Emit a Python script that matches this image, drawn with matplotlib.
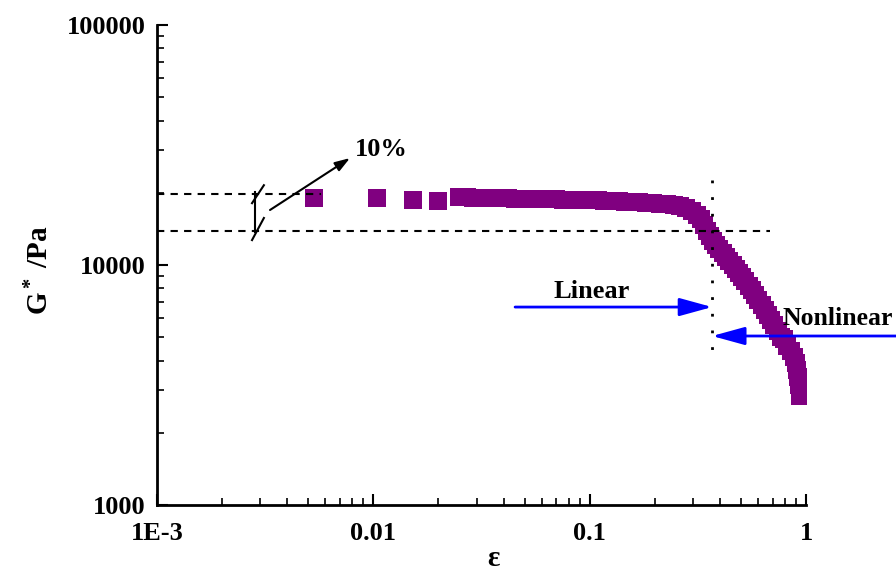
import matplotlib
matplotlib.use("Agg")
import matplotlib.pyplot as plt
from matplotlib.ticker import FixedLocator, FixedFormatter, LogLocator, NullFormatter

plt.rcParams["font.family"] = ["Liberation Serif", "DejaVu Serif"]
plt.rcParams["font.weight"] = "bold"
plt.rcParams["mathtext.fontset"] = "custom"
plt.rcParams["mathtext.rm"] = "Liberation Serif:bold"
plt.rcParams["mathtext.bf"] = "Liberation Serif:bold"
plt.rcParams["mathtext.it"] = "Liberation Serif:bold"

# Strain amplitude and complex modulus from the amplitude sweep
strain = [0.0053, 0.0104, 0.0153, 0.0199,
          0.025, 0.027, 0.029, 0.031, 0.033, 0.036, 0.039, 0.042, 0.045, 0.048,
          0.052, 0.056, 0.060, 0.065, 0.070, 0.075, 0.081, 0.087, 0.094, 0.101,
          0.109, 0.117, 0.126, 0.136, 0.146, 0.157, 0.169, 0.182, 0.196, 0.211,
          0.227, 0.244, 0.262, 0.280, 0.298, 0.313, 0.326, 0.338, 0.349, 0.360,
          0.372, 0.385, 0.398, 0.412, 0.427, 0.442, 0.458, 0.474, 0.490, 0.507,
          0.525, 0.543, 0.562, 0.582, 0.602, 0.623, 0.645, 0.667, 0.690, 0.714,
          0.739, 0.765, 0.792, 0.82, 0.85, 0.88, 0.90, 0.91, 0.92, 0.93, 0.935, 0.94]
modulus = [19000, 18950, 18700, 18500,
           19200, 19150, 19100, 19080, 19050, 19000, 18980, 18950, 18920, 18900,
           18870, 18850, 18820, 18800, 18770, 18740, 18700, 18680, 18650, 18610,
           18570, 18530, 18480, 18430, 18380, 18330, 18270, 18200, 18120, 18030,
           17900, 17750, 17550, 17250, 16800, 16200, 15500, 14700, 13900, 13200,
           12600, 12100, 11650, 11200, 10800, 10400, 10000, 9600, 9250, 8900,
           8550, 8200, 7850, 7500, 7150, 6800, 6500, 6200, 5900, 5600,
           5300, 5000, 4900, 4600, 4400, 4150, 3900, 3650, 3400, 3150, 2950, 2850]

x_ticks = [1e-3, 1e-2, 1e-1, 1]
x_tick_labels = ["1E-3", "0.01", "0.1", "1"]
y_ticks = [1000, 10000, 100000]
y_tick_labels = ["1000", "10000", "100000"]

# Reference levels of the plateau (10 % band) and the critical strain
g_upper = 19800
g_lower = 13900
strain_critical = 0.368

FS = 19

fig = plt.figure(figsize=(8.96, 5.71), dpi=100)
ax = fig.add_axes([0.1752, 0.1156, 0.7244, 0.8406])

ax.plot(strain, modulus, linestyle="none", marker="s", markersize=13,
        color="#800080", markeredgewidth=0, zorder=2)

ax.set_xscale("log")
ax.set_yscale("log")
ax.set_xlim(1e-3, 1)
ax.set_ylim(1000, 100000)

# Dashed plateau limits and dotted critical-strain line
ax.plot([1e-3, 0.0057], [g_upper, g_upper], "k--", lw=1.5, dashes=(3.5, 3), zorder=3)
ax.plot([1e-3, 0.68], [g_lower, g_lower], "k--", lw=1.5, dashes=(3.5, 3), zorder=3)
ax.plot([strain_critical, strain_critical], [22600, 4340], "k", lw=2,
        linestyle=(0, (1, 5)), zorder=3)

# 10 % bracket
ax.plot([0.00284, 0.00284], [20200, 13700], "k", lw=1.5)
ax.plot([0.00275, 0.00312], [18100, 21500], "k", lw=1.5)
ax.plot([0.00275, 0.00312], [12700, 15700], "k", lw=1.5)
ax.annotate("", xy=(0.0078, 27900), xytext=(0.00333, 16950),
            arrowprops=dict(arrowstyle="-|>,head_length=0.9,head_width=0.3",
                            color="k", lw=1.5, shrinkA=0, shrinkB=0))
ax.text(0.0082, 30200, "10%", fontsize=FS, fontweight="bold", va="center", ha="left")

# Linear / nonlinear regions
blue_head = "-|>,head_length=2.0,head_width=0.55"
ax.annotate("", xy=(strain_critical, 6680), xytext=(0.0452, 6680),
            arrowprops=dict(arrowstyle=blue_head, color="#0000ff", lw=2,
                            shrinkA=0, shrinkB=0))
ax.text(0.1026, 7720, "Linear", fontsize=FS, fontweight="bold", va="center", ha="center")
ax.annotate("", xy=(strain_critical, 5060), xytext=(2.61, 5060),
            annotation_clip=False,
            arrowprops=dict(arrowstyle=blue_head, color="#0000ff", lw=2,
                            shrinkA=0, shrinkB=0))
ax.text(0.775, 6000, "Nonlinear", fontsize=18.5, fontweight="bold", va="center",
        ha="left", clip_on=False)

for side in ("top", "right"):
    ax.spines[side].set_visible(False)
for side in ("left", "bottom"):
    ax.spines[side].set_linewidth(2)

ax.xaxis.set_major_locator(FixedLocator(x_ticks))
ax.xaxis.set_major_formatter(FixedFormatter(x_tick_labels))
ax.yaxis.set_major_locator(FixedLocator(y_ticks))
ax.yaxis.set_major_formatter(FixedFormatter(y_tick_labels))
ax.xaxis.set_minor_locator(LogLocator(base=10, subs=range(2, 10)))
ax.yaxis.set_minor_locator(LogLocator(base=10, subs=range(2, 10)))
ax.xaxis.set_minor_formatter(NullFormatter())
ax.yaxis.set_minor_formatter(NullFormatter())
ax.tick_params(which="major", direction="in", length=8, width=1.5, labelsize=FS)
ax.tick_params(axis="x", which="major", pad=12)
ax.tick_params(axis="y", which="major", pad=8)
ax.tick_params(which="minor", direction="in", length=5, width=1.2)
for lbl in ax.get_xticklabels() + ax.get_yticklabels():
    lbl.set_fontweight("bold")

ax.set_xlabel("ε", fontsize=21, fontweight="bold", va="center")
ax.xaxis.set_label_coords(0.518, -0.112)
ax.set_ylabel(r"$\mathbf{G^*}$ /Pa", fontsize=21, fontweight="bold", va="center")
ax.yaxis.set_label_coords(-0.18, 0.49)

fig.savefig("out.png", dpi=100)
